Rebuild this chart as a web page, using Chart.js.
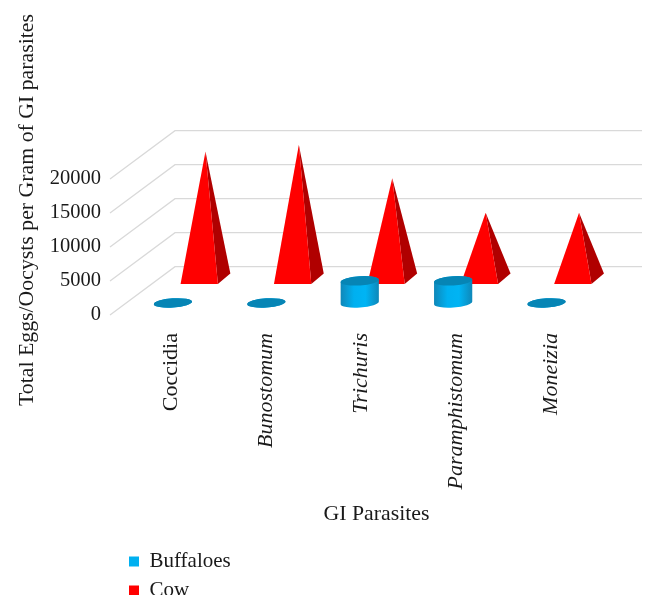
<!DOCTYPE html>
<html>
<head>
<meta charset="utf-8">
<style>
body { margin: 0; background: #fff; }
canvas { display: block; }
</style>
<script src="https://cdn.jsdelivr.net/npm/chart.js@4/dist/chart.umd.min.js"></script>
</head>
<body>
<canvas id="chart" width="660" height="595"></canvas>
<script>
var parasites = ['Coccidia', 'Bunostomum', 'Trichuris', 'Paramphistomum', 'Moneizia'];
var buffaloes = [0, 0, 3250, 3250, 0];
var cow = [18700, 19700, 14800, 9700, 9700];
var yTicks = [0, 5000, 10000, 15000, 20000];

var textColor = '#1a1a1a';
var fontFamily = "'Liberation Serif', serif";

// how far the back wall sits from the front of the floor
var depthX = 65;
var depthY = 48.3;

function shiftTitle(scale, dx, dy) {
    var draw = Object.getPrototypeOf(scale).drawTitle;
    scale.drawTitle = function() {
        this.ctx.save();
        this.ctx.translate(dx, dy);
        draw.call(this);
        this.ctx.restore();
    };
}

function drawWalls(chart) {
    var ctx = chart.ctx;
    var left = chart.chartArea.left;
    var right = chart.chartArea.right;
    ctx.save();
    ctx.strokeStyle = '#d9d9d9';
    ctx.lineWidth = 1.3;
    yTicks.forEach(function(v) {
        var y = chart.scales.y.getPixelForValue(v);
        ctx.beginPath();
        ctx.moveTo(left, y);
        ctx.lineTo(left + depthX, y - depthY);
        ctx.lineTo(right + depthX, y - depthY);
        ctx.stroke();
    });
    ctx.restore();
}

function drawPyramid(ctx, bar) {
    var cx = bar.x + depthX * 0.75;
    var baseY = bar.base - depthY * 0.75;
    var topY = bar.y - depthY * 0.75;
    var w = bar.width;
    var dx = w / 3;
    var dy = w * 0.283;
    var frontLeft = cx - w / 2 - dx / 2;
    var frontRight = cx + w / 2 - dx / 2;
    var backRight = cx + w / 2 + dx / 2;

    ctx.fillStyle = '#b00000';
    ctx.beginPath();
    ctx.moveTo(frontRight, baseY + dy / 2);
    ctx.lineTo(backRight, baseY - dy / 2);
    ctx.lineTo(cx, topY);
    ctx.closePath();
    ctx.fill();

    ctx.fillStyle = '#ff0000';
    ctx.beginPath();
    ctx.moveTo(frontLeft, baseY + dy / 2);
    ctx.lineTo(frontRight, baseY + dy / 2);
    ctx.lineTo(cx, topY);
    ctx.closePath();
    ctx.fill();
}

function drawCylinder(ctx, bar) {
    var cx = bar.x + depthX * 0.25;
    var baseY = bar.base - depthY * 0.25;
    var topY = bar.y - depthY * 0.25;
    var rx = bar.width / 2;
    var ry = 4.6;
    var tilt = -4 * Math.PI / 180;

    var side = ctx.createLinearGradient(cx - rx, 0, cx + rx, 0);
    side.addColorStop(0, '#0f87b8');
    side.addColorStop(0.35, '#00b0f0');
    side.addColorStop(0.65, '#00b4f4');
    side.addColorStop(1, '#0f87b8');
    ctx.fillStyle = side;
    ctx.beginPath();
    ctx.ellipse(cx, baseY, rx, ry, tilt, 0, Math.PI);
    ctx.ellipse(cx, topY, rx, ry, tilt, Math.PI, 0);
    ctx.closePath();
    ctx.fill();

    ctx.fillStyle = '#0685b5';
    ctx.beginPath();
    ctx.ellipse(cx, topY, rx, ry, tilt, 0, Math.PI * 2);
    ctx.fill();
}

var depth3d = {
    id: 'depth3d',
    afterLayout: function(chart) {
        // legend sits under the axis title, stacked at the left
        var legend = chart.legend;
        legend.left = 121;
        legend.right = 300;
        legend.width = 179;
        legend.top = 543;
        legend.bottom = 680;
        shiftTitle(chart.scales.x, 33, 6);
        shiftTitle(chart.scales.y, 10, -37);
        // the labels fan out a little wider than the bars
        var x = chart.scales.x;
        var tickPixel = Object.getPrototypeOf(x).getPixelForTick;
        x.getPixelForTick = function(i) {
            return tickPixel.call(this, i) + 1.45 * i;
        };
    },
    beforeDatasetsDraw: function(chart) {
        drawWalls(chart);
    },
    // bars are swapped for the 3d shapes, the element still gives the pixels
    beforeDatasetDraw: function(chart, args) {
        var draw = args.index === 0 ? drawCylinder : drawPyramid;
        args.meta.data.forEach(function(bar) {
            draw(chart.ctx, bar);
        });
        return false;
    }
};

var ctx = document.getElementById('chart').getContext('2d');
var myChart = new Chart(ctx, {
    type: 'bar',
    data: {
        labels: parasites,
        datasets: [
            { label: 'Buffaloes', data: buffaloes, backgroundColor: '#00b0f0', borderWidth: 0, barPercentage: 0.41, categoryPercentage: 1 },
            { label: 'Cow', data: cow, backgroundColor: '#ff0000', borderWidth: 0, barPercentage: 0.4, categoryPercentage: 1 }
        ]
    },
    plugins: [depth3d],
    options: {
        responsive: false,
        animation: false,
        grouped: false,
        layout: { padding: { top: 179, right: 83, bottom: 70, left: 0 } },
        plugins: {
            legend: {
                position: 'chartArea',
                align: 'start',
                labels: {
                    boxWidth: 10,
                    boxHeight: 10,
                    padding: 8,
                    color: textColor,
                    font: { family: fontFamily, size: 21 }
                }
            },
            tooltip: { enabled: false }
        },
        scales: {
            x: {
                afterFit: function(scale) { scale.height = 210; },
                grid: { display: false },
                border: { display: false },
                title: {
                    display: true,
                    text: 'GI Parasites',
                    color: textColor,
                    font: { family: fontFamily, size: 21.8 }
                },
                ticks: {
                    autoSkip: false,
                    minRotation: 90,
                    maxRotation: 90,
                    labelOffset: 14.7,
                    padding: 10,
                    color: textColor,
                    font: function(c) {
                        return { family: fontFamily, size: 22, style: c.index === 0 ? 'normal' : 'italic' };
                    }
                }
            },
            y: {
                min: 0,
                max: 20000,
                afterFit: function(scale) { scale.width = 110; },
                grid: { display: false, drawTicks: false },
                border: { display: false },
                title: {
                    display: true,
                    text: 'Total Eggs/Oocysts per Gram of GI parasites',
                    color: textColor,
                    font: { family: fontFamily, size: 21.8 }
                },
                ticks: {
                    stepSize: 5000,
                    padding: 9,
                    color: textColor,
                    font: { family: fontFamily, size: 20.5 },
                    callback: function(v) { return String(v); }
                }
            }
        }
    }
});
</script>
</body>
</html>
